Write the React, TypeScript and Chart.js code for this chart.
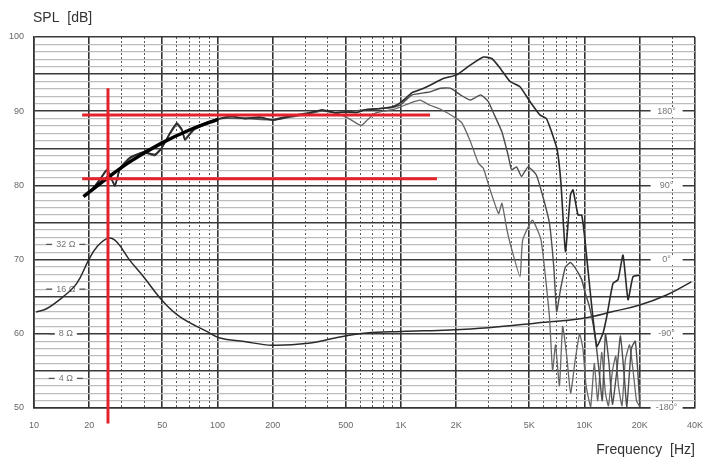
import React, { useEffect, useRef } from 'react';
import { Chart, registerables } from 'chart.js';

Chart.register(...registerables);

// ---- axes / ticks ----
const FREQ_MAJOR = [10, 20, 50, 100, 200, 500, 1000, 2000, 5000, 10000, 20000, 40000];
const FREQ_LABELS = ['10', '20', '50', '100', '200', '500', '1K', '2K', '5K', '10K', '20K', '40K'];
const FREQ_MINOR = [30, 40, 60, 70, 80, 90, 300, 400, 600, 700, 800, 900, 3000, 4000, 6000, 7000, 8000, 9000, 30000];
const DB_LABELS = [50, 60, 70, 80, 90, 100];
const PHASE_TICKS = [180, 90, 0, -90, -180];
const PHASE_LABELS = ['180°', '90°', '0°', '-90°', '-180°'];
const IMP_TICKS = [32, 16, 8, 4];
const IMP_LABELS = ['32 Ω', '16 Ω', '8 Ω', '4 Ω'];

// ---- on-axis SPL ----
const ON_AXIS_HZ = [21, 23, 25, 27.6, 29.4, 33.3, 39.5, 45.6, 49.6, 55, 60, 64, 66.5, 74, 87, 103, 120, 140, 170, 200, 250, 313, 370, 440, 500, 570, 640, 720, 800, 900, 1000, 1150, 1300, 1440, 1700, 2010, 2380, 2810, 3120, 3470, 3930, 4450, 5040, 5710, 6200, 6660, 7100, 7440, 7870, 8380, 8655, 9220, 9654, 10060, 10715, 11655, 12615, 13213, 14300, 15225, 16210, 17265, 18380, 20000];
const ON_AXIS_DB = [79.6, 80.9, 82.1, 79.9, 82.3, 83.7, 84.5, 84.1, 85.0, 87.0, 88.4, 87.5, 86.1, 87.5, 88.4, 89.0, 89.3, 89.0, 89.2, 88.8, 89.3, 89.7, 90.2, 89.8, 89.9, 89.8, 90.2, 90.3, 90.4, 90.6, 91.2, 92.5, 93.0, 93.5, 94.4, 94.9, 96.2, 97.3, 97.1, 95.8, 94.0, 93.3, 91.3, 89.5, 89.0, 87.0, 84.8, 80.3, 71.1, 78.7, 79.4, 76.0, 76.0, 72.6, 65.9, 58.3, 60.1, 62.3, 66.8, 67.3, 70.6, 64.6, 67.7, 67.9];

// ---- 30° off-axis SPL ----
const OFF30_HZ = [21, 23, 25, 27.6, 29.4, 33.3, 39.5, 45.6, 49.6, 55, 60, 64, 66.5, 74, 87, 103, 140, 200, 250, 313, 370, 440, 500, 640, 800, 900, 1000, 1150, 1440, 1635, 1855, 2106, 2390, 2713, 2990, 3172, 3548, 3850, 4005, 4260, 4535, 4922, 5460, 5930, 6440, 6800, 7050, 7400, 7870, 8380, 8900, 9650, 10060, 10600, 11400, 12000, 12500, 13000, 13600, 14200, 15000, 15700, 16500, 17000, 18000, 18900, 19500, 20000];
const OFF30_DB = [79.7, 80.8, 82.0, 80.1, 82.2, 83.6, 84.5, 84.2, 85.1, 86.9, 88.2, 87.4, 86.3, 87.6, 88.5, 89.0, 89.1, 88.9, 89.4, 89.8, 90.1, 89.8, 89.9, 90.2, 90.4, 90.5, 90.9, 92.2, 92.6, 93.1, 93.1, 92.2, 91.5, 92.2, 91.3, 89.9, 87.2, 83.9, 82.1, 82.5, 81.2, 82.5, 81.4, 78.5, 74.9, 69.0, 63.0, 66.0, 69.0, 69.6, 68.9, 67.3, 65.6, 63.8, 59.9, 55.0, 51.0, 60.0, 56.0, 50.5, 55.0, 59.7, 54.0, 50.2, 58.0, 59.0, 55.0, 50.5];

// ---- 60° off-axis SPL ----
const OFF60_HZ = [21, 23, 25, 27.6, 29.4, 33.3, 39.5, 45.6, 49.6, 55, 60, 64, 66.5, 74, 87, 103, 140, 200, 250, 313, 370, 450, 520, 570, 611, 660, 720, 800, 900, 1000, 1120, 1270, 1440, 1635, 2010, 2150, 2390, 2640, 2810, 3060, 3400, 3548, 3780, 3930, 4450, 4600, 5200, 5800, 6440, 6700, 6950, 7300, 7600, 8000, 8400, 8900, 9400, 9800, 10200, 10800, 11300, 11800, 12400, 13000, 13500, 14200, 14800, 15300, 16000, 16700, 17600, 18400, 19200, 20000];
const OFF60_DB = [79.5, 80.9, 82.2, 80.0, 82.3, 83.8, 84.4, 84.0, 85.0, 87.1, 88.3, 87.6, 86.2, 87.4, 88.3, 89.0, 89.0, 88.8, 89.2, 89.6, 90.0, 89.7, 89.0, 88.4, 88.1, 88.9, 89.7, 90.0, 90.2, 90.6, 91.1, 91.5, 90.8, 90.3, 89.0, 88.4, 85.9, 83.0, 82.3, 79.4, 76.2, 77.6, 74.0, 72.2, 67.7, 72.6, 75.3, 72.6, 62.3, 55.0, 58.5, 53.0, 61.0, 57.0, 52.0, 56.5, 60.0, 58.0, 53.0, 50.2, 56.0, 51.0, 57.5, 52.0, 50.3, 55.0, 57.0, 53.0, 50.3, 56.5, 58.5, 55.0, 51.0, 50.2];

// ---- impedance ----
const IMP_HZ = [10.25, 11.7, 14.4, 17.1, 19.8, 22.0, 25.4, 28.2, 33.3, 39.5, 50.8, 62.5, 87.4, 103, 140, 198, 313, 437, 648, 1000, 1850, 3000, 5260, 9870, 14300, 20000, 28000, 38200];
const IMP_OHM = [11.2, 11.8, 14.2, 17.5, 25.0, 30.8, 35.3, 33.4, 25.0, 19.4, 13.1, 10.4, 8.3, 7.5, 7.1, 6.7, 6.9, 7.5, 8.1, 8.3, 8.5, 8.8, 9.4, 10.2, 11.3, 12.5, 14.6, 17.9];

// ---- hand-drawn annotations ----
const HAND_HZ = [18.6, 25.4, 33.4, 49.6, 70.8, 100.6];
const HAND_DB = [78.5, 81.1, 83.2, 85.7, 87.5, 88.9];
const RED_UPPER_HZ = [18.3, 1440];
const RED_UPPER_DB = [89.5, 89.5];
const RED_LOWER_HZ = [18.3, 1570];
const RED_LOWER_DB = [80.9, 80.9];
const RED_VERT_HZ = [25.3, 25.3];
const RED_VERT_DB = [93.1, 47.9];

const FONT = '"Liberation Sans", Arial, Helvetica, sans-serif';

const pts = (xs: number[], ys: number[]) => xs.map((x, i) => ({ x, y: ys[i] }));

const overlay = {
  id: 'overlay',
  beforeDatasetsDraw(chart: any) {
    const { ctx, scales } = chart;
    const xs = scales.x;
    const yP = scales.yPhase;
    const yZ = scales.yZ;
    ctx.save();
    ctx.font = `9px ${FONT}`;
    ctx.textBaseline = 'middle';
    ctx.textAlign = 'center';
    // phase labels (right side, inside plot)
    const px = xs.getPixelForValue(28000);
    PHASE_TICKS.forEach((v, i) => {
      const py = yP.getPixelForValue(v);
      ctx.fillStyle = '#fff';
      ctx.fillRect(px - 16, py - 3.5, 32, 7);
      ctx.fillStyle = '#777';
      ctx.fillText(PHASE_LABELS[i], px, py);
    });
    // impedance labels (left side, inside plot)
    const zx = xs.getPixelForValue(14.9);
    IMP_TICKS.forEach((v, i) => {
      const py = yZ.getPixelForValue(v);
      const w = ctx.measureText(IMP_LABELS[i]).width;
      ctx.fillStyle = '#fff';
      ctx.fillRect(zx - w / 2 - 4, py - 4, w + 8, 8);
      ctx.strokeStyle = '#555';
      ctx.lineWidth = 1.2;
      ctx.beginPath();
      ctx.moveTo(zx - w / 2 - 10, py);
      ctx.lineTo(zx - w / 2 - 4, py);
      ctx.moveTo(zx + w / 2 + 4, py);
      ctx.lineTo(zx + w / 2 + 10, py);
      ctx.stroke();
      ctx.fillStyle = '#777';
      ctx.fillText(IMP_LABELS[i], zx, py);
    });
    ctx.restore();
  },
  afterDraw(chart: any) {
    const { ctx } = chart;
    ctx.save();
    ctx.font = `14px ${FONT}`;
    ctx.fillStyle = '#333';
    ctx.textAlign = 'left';
    ctx.textBaseline = 'middle';
    ctx.fillText('SPL  [dB]', 33, 18);
    ctx.restore();
  },
};

export default function App() {
  const ref = useRef<HTMLCanvasElement>(null);

  useEffect(() => {
    if (!ref.current) return;
    Chart.defaults.font.family = FONT;
    const line = (data: any, color: string, width: number, order: number, extra: any = {}) => ({
      data,
      borderColor: color,
      backgroundColor: color,
      borderWidth: width,
      pointRadius: 0,
      fill: false,
      order,
      xAxisID: 'x',
      yAxisID: 'y',
      ...extra,
    });
    const chart = new Chart(ref.current, {
      type: 'line',
      data: {
        datasets: [
          line(pts(RED_UPPER_HZ, RED_UPPER_DB), '#e3222b', 3, 0),
          line(pts(RED_LOWER_HZ, RED_LOWER_DB), '#e3222b', 3, 0),
          line(pts(RED_VERT_HZ, RED_VERT_DB), '#e3222b', 3, 0, { clip: false }),
          line(pts(HAND_HZ, HAND_DB), '#000', 3.5, 1, { cubicInterpolationMode: 'monotone' }),
          line(pts(ON_AXIS_HZ, ON_AXIS_DB), '#2a2a2a', 1.6, 2, { tension: 0.15 }),
          line(pts(OFF30_HZ, OFF30_DB), '#4c4c4c', 1.4, 3, { tension: 0.15 }),
          line(pts(OFF60_HZ, OFF60_DB), '#666', 1.3, 4, { tension: 0.15 }),
          line(pts(IMP_HZ, IMP_OHM), '#2b2b2b', 1.5, 5, { yAxisID: 'yZ', tension: 0.4 }),
        ] as any,
      },
      options: {
        animation: false,
        responsive: false,
        maintainAspectRatio: false,
        layout: { padding: { top: 37, right: 23, bottom: 0, left: 0 } },
        plugins: { legend: { display: false }, tooltip: { enabled: false }, title: { display: false } },
        scales: {
          x: {
            type: 'logarithmic',
            position: 'bottom',
            min: 10,
            max: 40000,
            weight: 1,
            afterBuildTicks: (s: any) => {
              s.ticks = FREQ_MAJOR.map((v) => ({ value: v }));
            },
            afterFit: (s: any) => {
              s.height = 66;
              s.paddingLeft = 0;
              s.paddingRight = 0;
            },
            grid: { color: '#333', lineWidth: 1.6, drawTicks: false },
            border: { color: '#333', width: 1.6 },
            ticks: {
              autoSkip: false,
              maxRotation: 0,
              padding: 12,
              color: '#666',
              font: { size: 9 },
              callback: (v: any) => {
                const i = FREQ_MAJOR.indexOf(Number(v));
                return i >= 0 ? FREQ_LABELS[i] : '';
              },
            },
            title: {
              display: true,
              text: 'Frequency  [Hz]',
              align: 'end',
              color: '#333',
              font: { size: 14 },
              padding: { top: 0, bottom: 15 },
            },
          },
          xMinor: {
            type: 'logarithmic',
            position: 'bottom',
            min: 10,
            max: 40000,
            weight: 0,
            afterBuildTicks: (s: any) => {
              s.ticks = FREQ_MINOR.map((v) => ({ value: v }));
            },
            afterFit: (s: any) => {
              s.height = 0;
              s.paddingLeft = 0;
              s.paddingRight = 0;
            },
            grid: { color: '#555', lineWidth: 1, drawTicks: false },
            border: { display: false, dash: [2, 2] },
            ticks: { display: false },
          },
          y: {
            type: 'linear',
            position: 'left',
            min: 50,
            max: 100,
            weight: 1,
            afterBuildTicks: (s: any) => {
              const t: any[] = [];
              for (let v = 50; v <= 100; v++) t.push({ value: v });
              s.ticks = t;
            },
            afterFit: (s: any) => {
              s.width = 34;
            },
            grid: {
              color: (c: any) => (c.tick && c.tick.value % 5 === 0 ? '#3a3a3a' : '#bdbdbd'),
              lineWidth: (c: any) => (c.tick && c.tick.value % 5 === 0 ? 1.6 : 1.2),
              drawTicks: false,
            },
            border: { color: '#333', width: 1.6 },
            ticks: {
              autoSkip: false,
              padding: 10,
              color: '#666',
              font: { size: 9 },
              callback: (v: any) => (DB_LABELS.includes(Number(v)) ? String(v) : ''),
            },
          },
          yZ: {
            type: 'logarithmic',
            display: false,
            position: 'left',
            min: 8 / Math.sqrt(10),
            max: 800,
          },
          yPhase: {
            type: 'linear',
            display: false,
            position: 'right',
            min: -180,
            max: 270,
          },
        } as any,
      },
      plugins: [overlay],
    } as any);
    return () => chart.destroy();
  }, []);

  return (
    <div style={{ position: 'absolute', left: 0, top: 0, width: 718, height: 474, background: '#fff' }}>
      <canvas ref={ref} width={718} height={474} style={{ display: 'block', width: 718, height: 474 }} />
    </div>
  );
}
